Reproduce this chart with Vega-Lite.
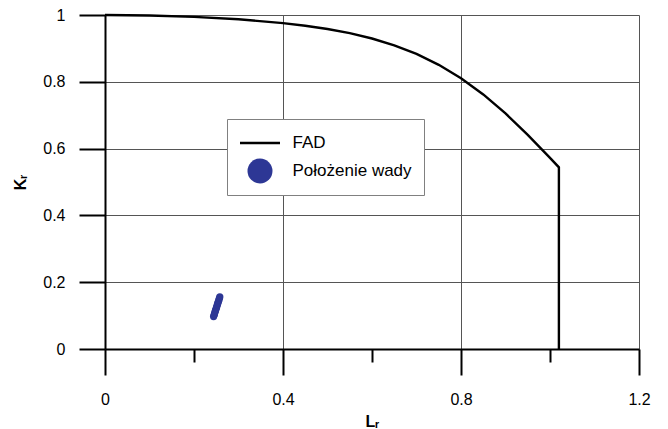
{
  "$schema": "https://vega.github.io/schema/vega-lite/v6.json",
  "width": 534,
  "height": 334,
  "autosize": {"type": "none"},
  "padding": {"left": 105, "top": 15, "right": 29, "bottom": 80},
  "background": "white",
  "config": {
    "view": {"stroke": null},
    "font": "Liberation Sans",
    "axis": {
      "domainColor": "black",
      "domainWidth": 2,
      "tickColor": "black",
      "tickWidth": 2,
      "gridColor": "#555555",
      "gridWidth": 1,
      "labelFlush": false,
      "labelFont": "Liberation Sans",
      "labelFontSize": 16,
      "labelColor": "black",
      "titleFont": "Liberation Sans",
      "titleFontSize": 16,
      "titleFontWeight": "bold",
      "titleColor": "black"
    }
  },
  "layer": [
    {
      "data": {
        "values": [
          {"i": 0, "Lr": 0.0, "Kr": 1.0},
          {"i": 1, "Lr": 0.1, "Kr": 0.9986},
          {"i": 2, "Lr": 0.2, "Kr": 0.9944},
          {"i": 3, "Lr": 0.3, "Kr": 0.9871},
          {"i": 4, "Lr": 0.4, "Kr": 0.9758},
          {"i": 5, "Lr": 0.45, "Kr": 0.968},
          {"i": 6, "Lr": 0.5, "Kr": 0.9582},
          {"i": 7, "Lr": 0.55, "Kr": 0.9457},
          {"i": 8, "Lr": 0.6, "Kr": 0.9297},
          {"i": 9, "Lr": 0.65, "Kr": 0.9093},
          {"i": 10, "Lr": 0.7, "Kr": 0.8834},
          {"i": 11, "Lr": 0.75, "Kr": 0.8508},
          {"i": 12, "Lr": 0.8, "Kr": 0.8106},
          {"i": 13, "Lr": 0.85, "Kr": 0.7621},
          {"i": 14, "Lr": 0.9, "Kr": 0.7053},
          {"i": 15, "Lr": 0.95, "Kr": 0.6413},
          {"i": 16, "Lr": 1.0, "Kr": 0.5723},
          {"i": 17, "Lr": 1.02, "Kr": 0.5439},
          {"i": 18, "Lr": 1.02, "Kr": 0.0}
        ]
      },
      "mark": {"type": "line", "color": "black", "strokeWidth": 2.4, "strokeJoin": "miter"},
      "encoding": {
        "x": {
          "field": "Lr", "type": "quantitative",
          "scale": {"domain": [0, 1.2], "nice": false, "zero": false},
          "axis": {
            "title": "Lᵣ",
            "values": [0, 0.2, 0.4, 0.6, 0.8, 1.0, 1.2],
            "format": ".2~f",
            "tickSize": {"condition": {"test": "abs(datum.value*2.5 - round(datum.value*2.5)) < 0.001", "value": 26}, "value": 13},
            "gridOpacity": {"condition": {"test": "abs(datum.value*2.5 - round(datum.value*2.5)) < 0.001", "value": 1}, "value": 0},
            "labelExpr": "abs(datum.value*2.5 - round(datum.value*2.5)) < 0.001 ? datum.label : ''",
            "labelPadding": 16,
            "titlePadding": 6
          }
        },
        "y": {
          "field": "Kr", "type": "quantitative",
          "scale": {"domain": [0, 1], "nice": false},
          "axis": {
            "title": "Kᵣ",
            "values": [0, 0.1, 0.2, 0.3, 0.4, 0.5, 0.6, 0.7, 0.8, 0.9, 1.0],
            "format": ".2~f",
            "tickSize": {"condition": {"test": "abs(datum.value*5 - round(datum.value*5)) < 0.001", "value": 26}, "value": 13},
            "gridOpacity": {"condition": {"test": "abs(datum.value*5 - round(datum.value*5)) < 0.001", "value": 1}, "value": 0},
            "labelExpr": "abs(datum.value*5 - round(datum.value*5)) < 0.001 ? datum.label : ''",
            "labelPadding": 14,
            "titlePadding": 14
          }
        },
        "order": {"field": "i", "type": "quantitative"}
      }
    },
    {
      "data": {
        "values": [
          {"series": "Położenie wady", "Lr": 0.244, "Kr": 0.097},
          {"series": "Położenie wady", "Lr": 0.245, "Kr": 0.101},
          {"series": "Położenie wady", "Lr": 0.246, "Kr": 0.105},
          {"series": "Położenie wady", "Lr": 0.247, "Kr": 0.11},
          {"series": "Położenie wady", "Lr": 0.248, "Kr": 0.114},
          {"series": "Położenie wady", "Lr": 0.249, "Kr": 0.118},
          {"series": "Położenie wady", "Lr": 0.25, "Kr": 0.122},
          {"series": "Położenie wady", "Lr": 0.251, "Kr": 0.126},
          {"series": "Położenie wady", "Lr": 0.252, "Kr": 0.131},
          {"series": "Położenie wady", "Lr": 0.253, "Kr": 0.135},
          {"series": "Położenie wady", "Lr": 0.254, "Kr": 0.139},
          {"series": "Położenie wady", "Lr": 0.255, "Kr": 0.143},
          {"series": "Położenie wady", "Lr": 0.256, "Kr": 0.147},
          {"series": "Położenie wady", "Lr": 0.257, "Kr": 0.152},
          {"series": "Położenie wady", "Lr": 0.258, "Kr": 0.156}
        ]
      },
      "mark": {"type": "point", "filled": true, "opacity": 1, "size": 52},
      "encoding": {
        "x": {"field": "Lr", "type": "quantitative"},
        "y": {"field": "Kr", "type": "quantitative"},
        "color": {
          "field": "series", "type": "nominal",
          "scale": {"domain": ["FAD", "Położenie wady"], "range": ["black", "#2d3795"]},
          "legend": {
            "title": null,
            "orient": "none",
            "legendX": 122,
            "legendY": 104,
            "padding": 11.5,
            "rowPadding": 7,
            "symbolSize": 625,
            "symbolStrokeWidth": 0,
            "symbolOffset": 9,
            "labelOffset": 20,
            "labelFont": "Liberation Sans",
            "labelFontSize": 17,
            "labelColor": "black",
            "strokeColor": "#808080",
            "fillColor": "white",
            "symbolOpacity": 1
          }
        },
        "shape": {
          "field": "series", "type": "nominal",
          "scale": {"domain": ["FAD", "Położenie wady"], "range": ["M-1.6,-0.1L1.6,-0.1L1.6,0.1L-1.6,0.1Z", "circle"]}
        }
      }
    }
  ]
}
